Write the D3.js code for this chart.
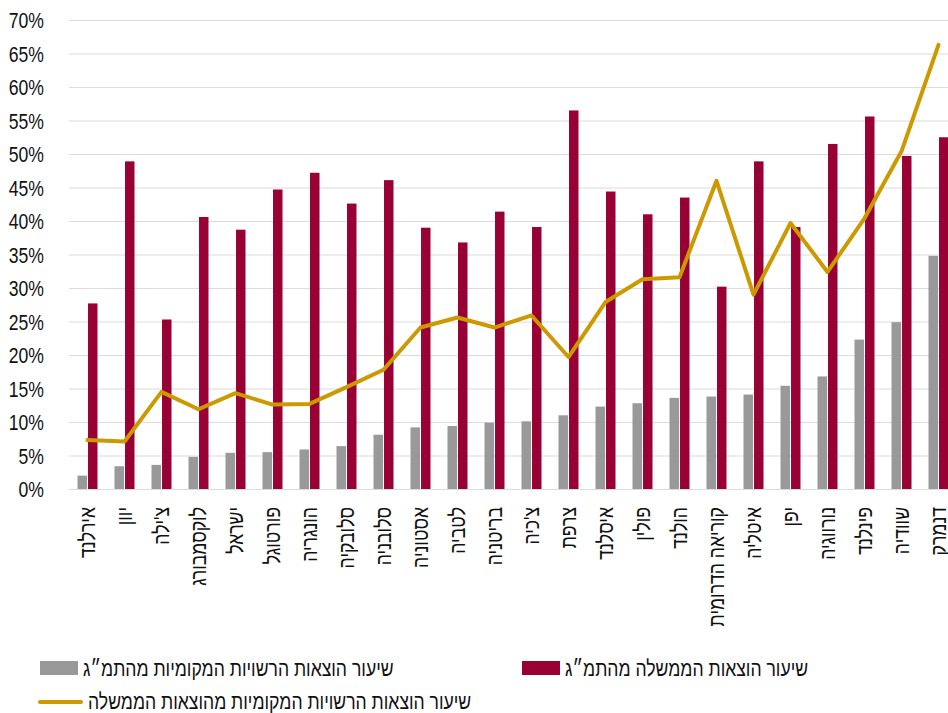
<!DOCTYPE html>
<html lang="he">
<head>
<meta charset="utf-8">
<script src="https://cdn.jsdelivr.net/npm/d3@7/dist/d3.min.js"></script>
<style>
  html, body { margin: 0; padding: 0; background: #fff; }
  svg { display: block; }
  text { font-family: "Liberation Sans", Arial, sans-serif; fill: #111; }
</style>
</head>
<body>
<svg id="chart" width="948" height="713"></svg>
<script>
// ---- data ----
const categories = ["אירלנד","יוון","צ'ילה","לוקסמבורג","ישראל","פורטוגל","הונגריה","סלובקיה","סלובניה","אסטוניה","לטביה","בריטניה","צ'כיה","צרפת","איסלנד","פולין","הולנד","קוריאה הדרומית","איטליה","יפן","נורווגיה","פינלנד","שוודיה","דנמרק"];
const localShareOfGDP = [2.0, 3.4, 3.6, 4.8, 5.4, 5.5, 5.9, 6.4, 8.1, 9.2, 9.4, 9.9, 10.1, 11.0, 12.3, 12.8, 13.6, 13.8, 14.1, 15.4, 16.8, 22.3, 24.9, 34.8];
const govShareOfGDP = [27.7, 48.9, 25.3, 40.6, 38.7, 44.7, 47.2, 42.6, 46.1, 39.0, 36.8, 41.4, 39.1, 56.5, 44.4, 41.0, 43.5, 30.2, 48.9, 39.1, 51.5, 55.6, 49.7, 52.5];
const localShareOfGov = [7.3, 7.1, 14.5, 11.9, 14.3, 12.6, 12.7, 15.2, 17.8, 24.1, 25.6, 24.1, 25.9, 19.7, 27.9, 31.3, 31.6, 46.0, 29.0, 39.7, 32.4, 40.4, 50.4, 66.3];
const yTicks = [0, 5, 10, 15, 20, 25, 30, 35, 40, 45, 50, 55, 60, 65, 70];
const seriesNames = ["שיעור הוצאות הרשויות המקומיות מהתמ״ג", "שיעור הוצאות הממשלה מהתמ״ג", "שיעור הוצאות הרשויות המקומיות מהוצאות הממשלה"];

const colors = { local: "#999999", gov: "#990033", line: "#CC9900" };
const FONT = 22, SQUEEZE = 0.8;

const svg = d3.select("#chart");
const plot = { left: 69, right: 957, top: 20, bottom: 489 };

const x = d3.scaleBand().domain(categories).range([plot.left, plot.right]).padding(0);
const y = d3.scaleLinear().domain([0, 70]).range([plot.bottom, plot.top]);
const half = x.bandwidth() / 2;
const x1 = d3.scaleBand().domain(["local", "gov"]).range([half - 10, half + 10]).paddingInner(0.1);

function squeeze(sel) {
  sel.each(function () {
    const len = this.getComputedTextLength();
    d3.select(this).attr("textLength", len * SQUEEZE).attr("lengthAdjust", "spacingAndGlyphs");
  });
}

// gridlines
const grid = svg.append("g").attr("transform", `translate(${plot.left},0)`)
  .call(d3.axisLeft(y).tickValues(yTicks).tickSize(-(plot.right - plot.left)).tickFormat(""));
grid.select(".domain").remove();
grid.selectAll(".tick line").attr("stroke", "#dcdcdc").attr("stroke-width", 1.2);

// y labels
const yAxis = svg.append("g").attr("transform", "translate(44,0)")
  .call(d3.axisLeft(y).tickValues(yTicks).tickSize(0).tickPadding(0).tickFormat(d => d + "%"));
yAxis.select(".domain").remove();
yAxis.selectAll(".tick text").attr("font-size", FONT).attr("fill", "#111")
  .attr("font-family", "Liberation Sans, Arial, sans-serif").attr("dy", "0.36em").call(squeeze);

// bars
const groups = svg.append("g").selectAll("g").data(categories).join("g")
  .attr("transform", d => `translate(${x(d)},0)`);
groups.append("rect")
  .attr("x", x1("local")).attr("width", x1.bandwidth())
  .attr("y", (d, i) => y(localShareOfGDP[i]))
  .attr("height", (d, i) => y(0) - y(localShareOfGDP[i]))
  .attr("fill", colors.local);
groups.append("rect")
  .attr("x", x1("gov")).attr("width", x1.bandwidth())
  .attr("y", (d, i) => y(govShareOfGDP[i]))
  .attr("height", (d, i) => y(0) - y(govShareOfGDP[i]))
  .attr("fill", colors.gov);

// line
const line = d3.line().x((d, i) => x(categories[i]) + half).y(d => y(d));
svg.append("path").datum(localShareOfGov).attr("d", line)
  .attr("fill", "none").attr("stroke", colors.line).attr("stroke-width", 4)
  .attr("stroke-linejoin", "round").attr("stroke-linecap", "round");

// x labels
const xAxis = svg.append("g").attr("transform", `translate(0,${plot.bottom})`)
  .call(d3.axisBottom(x).tickSize(0).tickPadding(0));
xAxis.select(".domain").remove();
xAxis.selectAll(".tick text")
  .attr("font-size", FONT).attr("fill", "#111").attr("font-family", "Liberation Sans, Arial, sans-serif")
  .attr("text-anchor", "end").attr("dominant-baseline", "central")
  .attr("y", 0).attr("dy", 0)
  .attr("transform", "translate(0,18) rotate(-90)")
  .call(squeeze);

// legend
const legend = svg.append("g");
const legItems = [
  { name: seriesNames[0], type: "rect", color: colors.local, sx: 40, tx: 83, cy: 668 },
  { name: seriesNames[1], type: "rect", color: colors.gov, sx: 522, tx: 565, cy: 668 },
  { name: seriesNames[2], type: "line", color: colors.line, sx: 40, tx: 88, cy: 701 }
];
legItems.forEach(it => {
  if (it.type === "rect") {
    legend.append("rect").attr("x", it.sx).attr("y", it.cy - 7).attr("width", 38).attr("height", 14).attr("fill", it.color);
  } else {
    legend.append("line").attr("x1", it.sx).attr("x2", it.sx + 41).attr("y1", it.cy + 1).attr("y2", it.cy + 1)
      .attr("stroke", it.color).attr("stroke-width", 4).attr("stroke-linecap", "round");
  }
  legend.append("text").attr("x", it.tx).attr("y", it.cy).attr("dy", "0.36em")
    .attr("font-size", FONT).attr("text-anchor", "start").text(it.name).call(squeeze);
});
</script>
</body>
</html>
